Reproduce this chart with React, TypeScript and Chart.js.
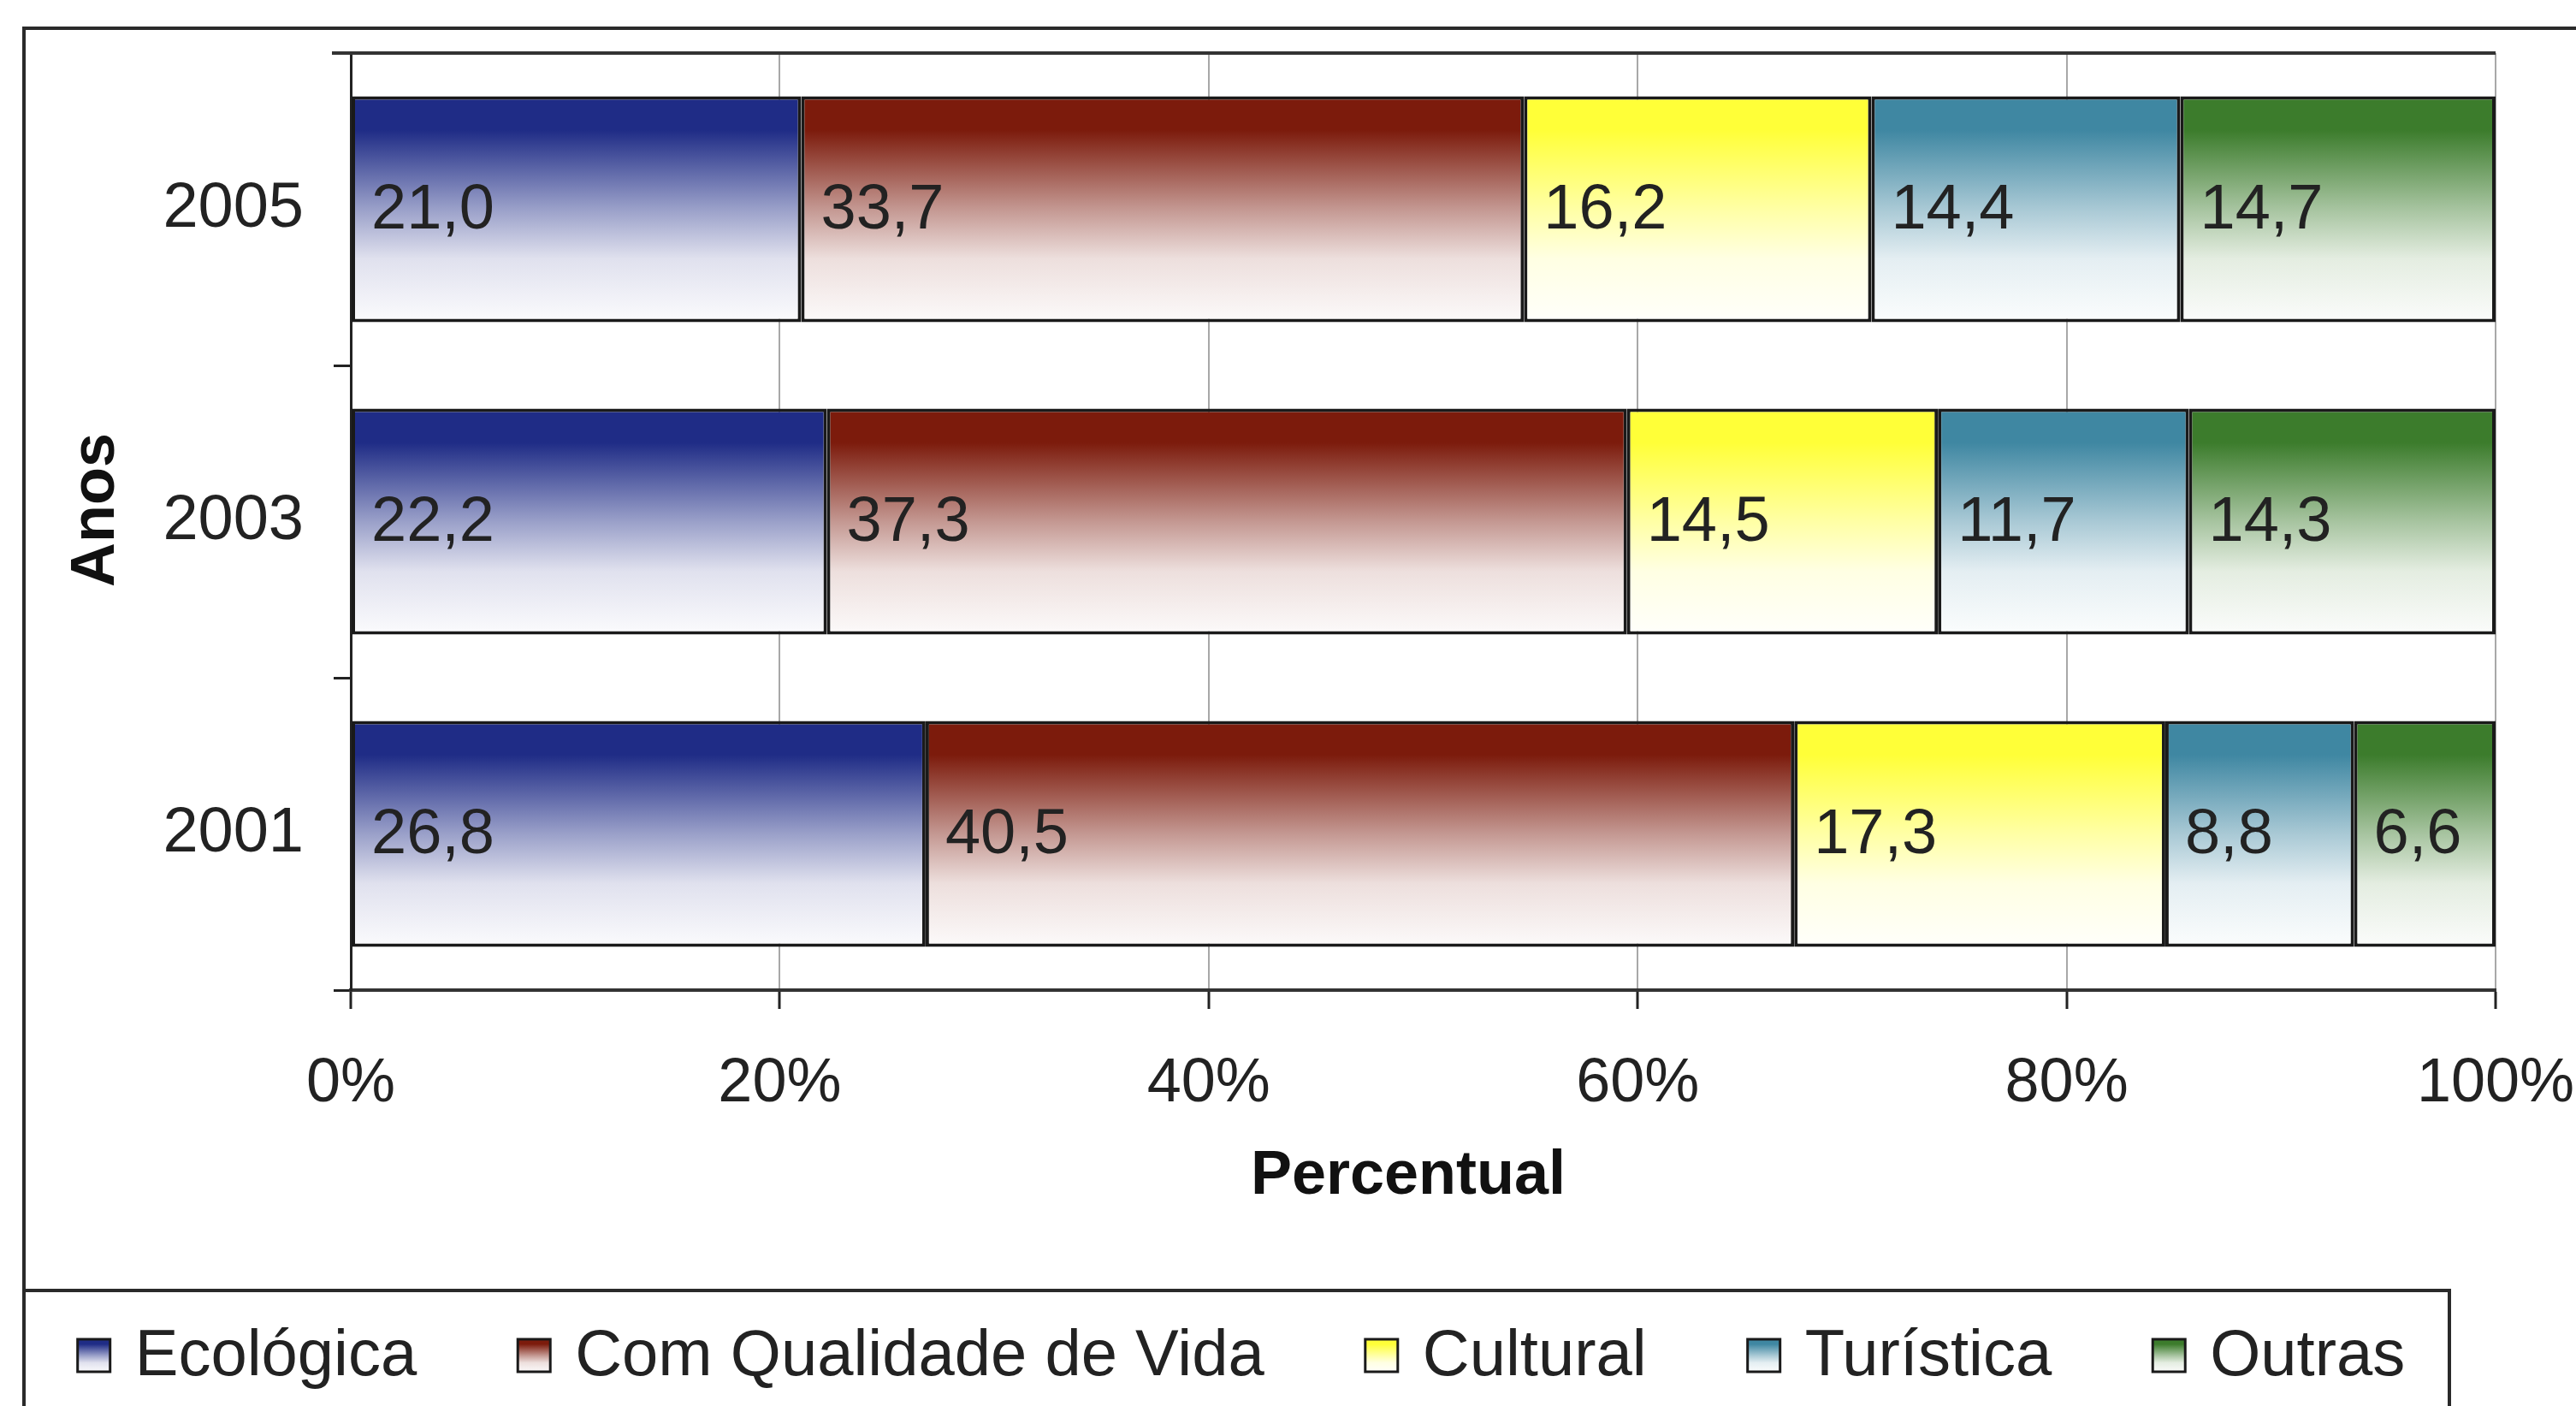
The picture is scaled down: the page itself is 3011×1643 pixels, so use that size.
import React, { useEffect, useRef } from 'react';
import { Chart, registerables } from 'chart.js';

Chart.register(...registerables);

const years = ['2005', '2003', '2001'];
const seriesNames = ['Ecológica', 'Com Qualidade de Vida', 'Cultural', 'Turística', 'Outras'];
const ecologica = [21.0, 22.2, 26.8];
const qualidadeVida = [33.7, 37.3, 40.5];
const cultural = [16.2, 14.5, 17.3];
const turistica = [14.4, 11.7, 8.8];
const outras = [14.7, 14.3, 6.6];
const xTickValues = [0, 20, 40, 60, 80, 100];
const xTitle = 'Percentual';
const yTitle = 'Anos';
const seriesColors = ['#1f2c86', '#7c1b0c', '#ffff38', '#3f87a2', '#3c7c2c'];

const FONT = '"Liberation Sans", Arial, sans-serif';

function mix(hex: string, t: number) {
  const r = parseInt(hex.slice(1, 3), 16);
  const g = parseInt(hex.slice(3, 5), 16);
  const b = parseInt(hex.slice(5, 7), 16);
  const f = (v: number) => Math.round(v + (255 - v) * t);
  return `rgb(${f(r)},${f(g)},${f(b)})`;
}

function makeGrad(ctx: CanvasRenderingContext2D, top: number, bottom: number, color: string) {
  const g = ctx.createLinearGradient(0, top, 0, bottom);
  g.addColorStop(0, color);
  g.addColorStop(0.15, color);
  g.addColorStop(0.5, mix(color, 0.55));
  g.addColorStop(0.72, mix(color, 0.86));
  g.addColorStop(1, mix(color, 0.98));
  return g;
}

const decorPlugin = {
  id: 'decor',
  beforeDraw(chart: any) {
    const c = chart.ctx as CanvasRenderingContext2D;
    c.save();
    c.fillStyle = '#ffffff';
    c.fillRect(0, 0, chart.width, chart.height);
    c.strokeStyle = '#2a2a2a';
    c.lineWidth = 4;
    c.beginPath();
    c.moveTo(3040, 33);
    c.lineTo(28, 33);
    c.lineTo(28, 1680);
    c.stroke();
    c.restore();
  },
  beforeDatasetsDraw(chart: any) {
    const c = chart.ctx as CanvasRenderingContext2D;
    chart.data.datasets.forEach((ds: any, i: number) => {
      const meta = chart.getDatasetMeta(i);
      meta.data.forEach((el: any) => {
        const top = el.y - el.height / 2;
        const bottom = el.y + el.height / 2;
        el.options = { ...el.options, backgroundColor: makeGrad(c, top, bottom, seriesColors[i]) };
      });
    });
  },
  afterDatasetsDraw(chart: any) {
    const c = chart.ctx as CanvasRenderingContext2D;
    const area = chart.chartArea;
    c.save();
    // plot top border
    c.strokeStyle = '#333';
    c.lineWidth = 4;
    c.beginPath();
    c.moveTo(area.left - 22, area.top);
    c.lineTo(area.right, area.top);
    c.stroke();
    // value labels
    c.font = `74px ${FONT}`;
    c.fillStyle = '#222';
    c.textAlign = 'left';
    c.textBaseline = 'middle';
    chart.data.datasets.forEach((ds: any, i: number) => {
      const meta = chart.getDatasetMeta(i);
      meta.data.forEach((el: any, j: number) => {
        const v = ds.data[j] as number;
        const txt = v.toFixed(1).replace('.', ',');
        const left = Math.min(el.base, el.x);
        c.fillText(txt, left + 23, el.y + 2);
      });
    });
    c.restore();
  },
  afterDraw(chart: any) {
    const c = chart.ctx as CanvasRenderingContext2D;
    c.save();
    // axis titles
    c.fillStyle = '#111';
    c.font = `bold 72px ${FONT}`;
    c.textAlign = 'center';
    c.textBaseline = 'middle';
    c.fillText(xTitle, 1646, 1375);
    c.save();
    c.translate(113, 596);
    c.rotate(-Math.PI / 2);
    c.fillText(yTitle, 0, 0);
    c.restore();
    // legend frame
    c.strokeStyle = '#2a2a2a';
    c.lineWidth = 4;
    c.beginPath();
    c.moveTo(28, 1508);
    c.lineTo(2863, 1508);
    c.lineTo(2863, 1680);
    c.stroke();
    c.font = `76px ${FONT}`;
    const box = 38;
    const gapBoxText = 29;
    const gapItems = 118;
    const labels: string[] = chart.data.datasets.map((d: any) => d.label);
    const widths = labels.map((n) => c.measureText(n).width);
    const total = widths.reduce((a, w) => a + box + gapBoxText + w, 0) + gapItems * (labels.length - 1);
    let x = 1451 - total / 2;
    const cy = 1584;
    labels.forEach((lab, i) => {
      const top = cy - box / 2;
      c.fillStyle = makeGrad(c, top, top + box, seriesColors[i]);
      c.fillRect(x, top, box, box);
      c.strokeStyle = '#1a1a1a';
      c.lineWidth = 3;
      c.strokeRect(x, top, box, box);
      c.fillStyle = '#222';
      c.textAlign = 'left';
      c.textBaseline = 'middle';
      c.fillText(lab, x + box + gapBoxText, cy + 2);
      x += box + gapBoxText + widths[i] + gapItems;
    });
    c.restore();
  },
};

export default function App() {
  const ref = useRef<HTMLCanvasElement>(null);
  useEffect(() => {
    const seriesData = [ecologica, qualidadeVida, cultural, turistica, outras];
    const chart = new Chart(ref.current as HTMLCanvasElement, {
      type: 'bar',
      data: {
        labels: years,
        datasets: seriesNames.map((name, i) => ({
          label: name,
          data: seriesData[i],
          backgroundColor: seriesColors[i],
          borderColor: '#1a1a1a',
          borderWidth: 4,
          borderSkipped: false,
          barPercentage: 0.723,
          categoryPercentage: 1,
        })),
      },
      options: {
        indexAxis: 'y',
        responsive: false,
        animation: false,
        devicePixelRatio: 1,
        layout: { padding: { left: 30, top: 62, right: 94, bottom: 226 } },
        plugins: {
          legend: { display: false },
          tooltip: { enabled: false },
        },
        scales: {
          x: {
            stacked: true,
            min: 0,
            max: 100,
            afterBuildTicks: (s: any) => {
              s.ticks = xTickValues.map((v) => ({ value: v }));
            },
            ticks: {
              callback: (v: any) => `${v}%`,
              font: { family: FONT, size: 72 },
              color: '#222',
              padding: 45,
              maxRotation: 0,
              autoSkip: false,
            },
            grid: {
              color: '#a8a8a8',
              lineWidth: 2,
              tickLength: 22,
              tickColor: '#222',
              tickWidth: 3,
            },
            border: { color: '#333', width: 4 },
            title: { display: false },
            afterFit: (s: any) => {
              s.height = 260;
              s.paddingLeft = 0;
              s.paddingRight = 0;
            },
          },
          y: {
            stacked: true,
            ticks: {
              font: { family: FONT, size: 74 },
              color: '#222',
              padding: 35,
            },
            grid: {
              drawOnChartArea: false,
              tickLength: 20,
              tickColor: '#222',
              tickWidth: 3,
              offset: true,
            },
            border: { color: '#222', width: 3 },
            title: { display: false },
            afterFit: (s: any) => {
              s.width = 380;
              s.paddingTop = 0;
              s.paddingBottom = 0;
            },
          },
        },
      } as any,
      plugins: [decorPlugin],
    });
    return () => chart.destroy();
  }, []);
  return (
    <div style={{ position: 'absolute', left: 0, top: 0, width: 3011, height: 1643, background: '#fff', overflow: 'hidden' }}>
      <canvas ref={ref} width={3011} height={1643} style={{ display: 'block', width: 3011, height: 1643 }} />
    </div>
  );
}
